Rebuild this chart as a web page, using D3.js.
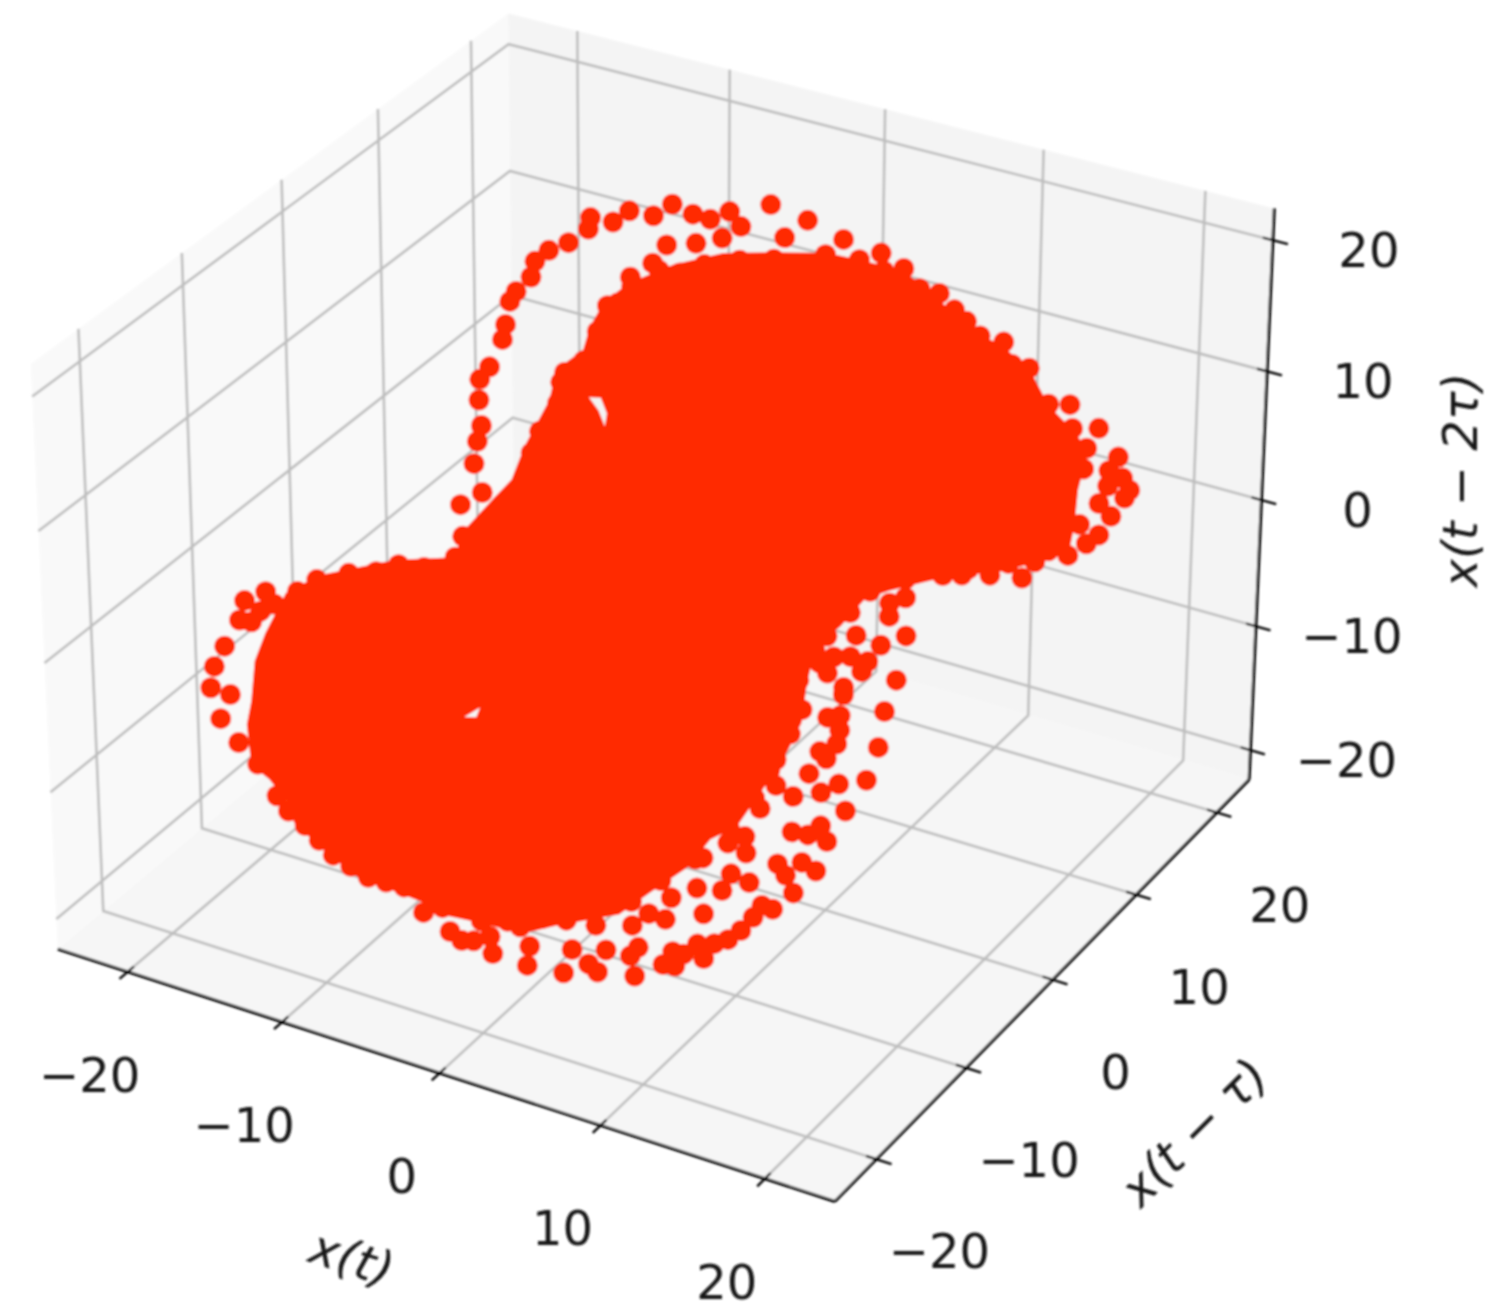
<!DOCTYPE html>
<html><head><meta charset="utf-8"><style>html,body{margin:0;background:#fff}svg{display:block}text{font-family:"DejaVu Sans";fill:#141414}</style>
<script src="https://cdn.jsdelivr.net/npm/d3@7"></script></head><body><svg id="c" width="1487" height="1312"></svg>
<script>
const ticks=[-20,-10,0,10,20];
const xAxisLimits=[-24.6,24.2], yAxisLimits=[-24.5,24.1], zAxisLimits=[-22.4,22.4];
const xyDataLimit=24, zDataLimit=22;
const axisTitles=["x(t)","x(t − τ)","x(t − 2τ)"];
// sampled points: x(t), x(t-tau), x(t-2tau)
const xT=[-5.6,-6.2,-7.3,-7.8,-8.8,-8.7,-9.3,-10,-10.4,-10.3,-10.7,-10.8,-10.6,-10.5,-10.6,-10.8,-10.5,-10,-9.9,-9.7,-8.9,-9.6,
-4.6,-3.8,-3.1,-2.4,-3,-1.5,.3,-.4,2.1,-5.2,-4,-5.5,-5.1,-6.2,-6,-6.7,-6.3,-6.7,-6.8,-7.4,-7.4,-7.2,-7.5,-7.5,-7.4,-7.9,-9,-8.2,
1.6,3.9,3.1,5.1,7,7.9,8.6,9.4,10.5,11.2,12,13.4,14.3,14.8,15.9,15.7,17.2,15.9,17,17.7,18.2,18.1,17.2,17.1,17.8,17.6,16.6,17.2,16.6,15.3,15,13.6,12.4,11.6,
10.4,9.8,10,11,10.1,8.9,7.7,8.3,9.8,9.7,9,8.3,7.8,9.2,9.3,11.3,11.3,11.6,11.6,10.5,11.2,9.9,9.1,8.8,9,9.5,9.7,9.8,9.2,9.6,10.4,9.3,10,10.9,10.2,10.9,9.2,9.7,10.3,8.3,7.4,7.3,6.2,5.3,5.4,4.6,4.1,4.7,4.5,5,6.9,9.7,9.2,9,8.7,8.3,7.8,7.1,7.6,6.7,6.2,6,6.5,
7.9,7.6,7.7,7.4,6.8,6,7.5,7.7,7.8,8.3,
-16.2,-16.9,-16.8,-17,-17.1,-16.9,-16,-16,-14.9,-13.8,-12.5,-10.9,-9.3,-7.5,-5.9,-4.7,-3.3,-2.7,-2.2,-1.6,-1.2,.2,.4,2,2,2.9,3.4,3.4,2.6,1.3,-.5,-2.2,-14.3,-14.9,-11.2,-13.1,-12,-10.1,-9,
-4.2,-3.3,-1.9,-.5,.9,4.3,6.1,-11.8,-10.1,-8.4,-6.7,-4,-1.1,.3,3.7,4.6,5.7,6.6,7.2,7.4,7.5,7.2,7.4,8.8,10.1,12.6,14.2,15.7,
-16.1,-16.3,-15.65];
const xTau=[10.6,9.6,8.9,8,7.3,6.9,5.8,4.9,4.1,3.5,2.6,2.1,1.3,.8,-.4,-1.1,-1.7,-2.3,-2.9,-3.6,-4.1,-5.2,
11.1,11.6,12.5,12.5,11.5,14.2,15.1,13.8,15.9,9.3,10.4,8.3,8.3,7.1,6.9,5.5,5.9,4.4,3.1,2.1,1.7,1,-.4,-1.3,-2.6,-3.7,-6,-5.2,
14.8,16.9,15.9,17.3,17.9,18,18.1,18.2,18.9,18.6,19.1,18.8,19.6,19,20,19,19.9,18.3,19.2,19.5,19.4,19,18.7,17.9,18,17,16.6,16.3,15.3,13.9,13,11.9,10.9,10.2,
8.2,7.5,7.1,7.2,6,5.4,4.3,5.8,5.1,4.6,4.6,4,3.3,3.5,3.3,5.6,4.3,3.1,1.8,.7,.2,-.2,-.1,-1.3,2.1,2.6,2.2,1.7,.9,.9,-1.1,-2.3,-1.8,-1.3,-2.8,-2.5,-3.7,-3.7,-3.9,-5.2,-5.6,-6.4,-7.2,-8.4,-9.2,-9.6,-10.5,-10.9,-11.4,-11.8,-7.7,-5.1,-5.4,-6,-6.8,-7.5,-8.1,-8.7,-8.9,-9.5,-9.8,-10.5,-10.1,
-1.6,-2.8,-4.5,-4.1,-4.9,-6.2,-.9,.3,1.4,3.3,
-14.4,-15.4,-16.1,-17.3,-18.2,-18.9,-18.4,-19.4,-19.4,-19.3,-19.5,-19.3,-19.1,-18.5,-17.5,-17.5,-17.1,-16.9,-16.5,-15.8,-16.2,-14.7,-15.3,-14.2,-13.3,-13.1,-13,-12.1,-11.8,-12.7,-14.5,-15.7,-12.3,-13.3,-9,-11,-10,-8.2,-6.8,
9,10.1,11.5,12.8,13.8,16.5,17.3,-19.5,-19.2,-18.8,-18,-16.7,-14.8,-13.5,-9.9,-8.3,-6.5,-4.4,-2.7,-1.4,1,2.1,3.5,7.1,8.7,11.3,12.9,14.7,
-15.1,-15.7,-14.45];
const x2Tau=[20.3,19.8,20.2,19.7,20.1,19.5,18.9,18.6,18.1,17.3,16.6,16.1,14.9,14.1,12.7,12.1,11,9.6,8.8,7.6,6,5.5,
19.6,19.2,19.5,18.6,18.1,19.6,18.5,17.7,17.2,18.1,18,17.2,16.8,16.6,16.1,15.2,15.3,13.9,12.4,11.9,11.4,10.3,8.9,7.8,6,5.2,3.8,3.7,
16.5,16.2,16,15.2,13.6,12.6,11.9,11,10.5,9.2,8.9,6.8,6.6,5.3,5.1,4.1,3.4,3,2.7,2.2,1.5,1.1,1.9,1,.2,-.7,0,-1.1,-1.6,-1.7,-2.5,-2.1,-1.9,-1.8,
-2.7,-2.9,-3.6,-4.8,-5.1,-4.4,-4.2,-3.1,-5.9,-6.4,-5.5,-5.4,-5.6,-7.1,-7.5,-7.1,-8.7,-10.6,-12.3,-12.3,-13.8,-12.6,-11.5,-12.6,-8.6,-8.6,-9.4,-10.1,-10.4,-10.8,-14.4,-14.5,-14.8,-15.3,-16.2,-16.8,-16.1,-16.8,-17.8,-16.9,-16.3,-17.1,-16.8,-17.1,-18.2,-17.8,-18.3,-19.5,-19.9,-21,-18.2,-18.5,-18.2,-18.8,-19.4,-19.8,-19.9,-19.8,-20.6,-20.2,-20,-20.6,-20.8,
-11.9,-13,-15.3,-14.4,-14.6,-15.2,-10.5,-9.2,-8,-6.2,
2.2,1.9,.9,-.4,-1.4,-2.5,-3,-4.2,-5.6,-6.9,-8.7,-10.5,-12.3,-13.7,-14.5,-16,-17.2,-17.8,-17.9,-17.8,-18.7,-18.6,-19.6,-20.3,-19.1,-20,-20.5,-19.4,-18,-17.5,-17.5,-16.9,2.5,2,2.7,2.6,2.5,2.4,2.7,
16.5,16.8,16.8,16.6,16.1,15.2,14,-9.6,-11.4,-13,-14.1,-15.9,-17.1,-17.2,-17,-16.1,-15.2,-13.8,-12.4,-11,-8.1,-6.4,-4.9,-2.1,-1.7,-1.6,-1.6,-1.2,
1.2,.7,1.5];
// outline of the saturated dense core, where single markers can no longer be told apart
const coreXT=[-4.6,-2.7,-.7,1.6,3.1,5.1,7,8.5,10.6,12.1,13.4,14.8,15.8,16,16.4,16.6,14.1,11.7,9.6,8.7,8.1,7.4,7.6,8,7.8,7.5,6.9,6,5.5,4.4,3.4,1,-.3,-2.2,-3.6,-5,-6.3,-7.8,-9.6,-11.4,-11.9,-13.1,-14.05,-14.85,-15.05,-15.55,-15.55,-15.35,-14.3,-11.4,-9,-9.1,-8.4,-7.9,-7.9,-7.6,-7.8,-7,-7.1,-6.9,-6.2];
const coreXTau=[9,11.1,12.9,14.9,15.9,17.2,17.7,17.9,18.8,19.1,18.8,19,19,17.5,16.4,15.4,12.5,10.2,7.8,6.7,5.1,3.6,2.3,1,-.7,-1.9,-4.1,-5.4,-7,-8.9,-10.7,-13.2,-14.6,-15.8,-16.7,-17.3,-18,-18.8,-19.3,-19.6,-19.3,-19.3,-19.55,-18.65,-17.85,-16.65,-15.55,-13.75,-12.1,-9,-6.8,-5.9,-4,-2.7,-1.3,.8,1.9,3.4,4.3,5.4,6.8];
const coreX2Tau=[17,17.3,17,16.6,16,15.1,13.4,11.7,10.2,8.7,6.7,5.2,4,1.9,0,-1.5,-2,-1.9,-2.2,-2.5,-3.8,-4.7,-6.6,-8.7,-10.6,-11.7,-13.8,-14.3,-15.6,-16.6,-17.6,-17.7,-17.9,-17,-16.4,-15.4,-14.6,-13.8,-12.1,-10.3,-9.2,-7.8,-6.9,-4.7,-3.5,-1.4,0,2,2.7,3,2.7,4,5.5,6.5,8.2,10.5,12.1,13,14.2,15.4,16.3];
// small gaps left open inside the core
const gapXT=[[-6,-5.5,-5,-4.9,-5.4],[-5.6,-5.6,-6.1]];
const gapXTau=[[2.3,2.7,2.5,2.1,2.3],[-10,-10.4,-10.8]];
const gapX2Tau=[[10.4,10.3,9.4,8.7,9.6],[-5.5,-6,-5.9]];

const A=.5714,C=.4286,D=10;
const qx=d3.scaleLinear().domain([-xyDataLimit,xyDataLimit]).range([-A,A]);
const qy=qx.copy();
const qz=d3.scaleLinear().domain([-zDataLimit,zDataLimit]).range([-C,C]);
const tx=d3.scaleLinear().domain(xAxisLimits).range([-xyDataLimit,xyDataLimit]);
const ty=d3.scaleLinear().domain(yAxisLimits).range([-xyDataLimit,xyDataLimit]);
const tz=d3.scaleLinear().domain(zAxisLimits).range([-zDataLimit,zDataLimit]);
const sx=d3.scaleLinear().domain([0,1]).range([664,664+7793]);
const sy=d3.scaleLinear().domain([0,1]).range([580,580-7785]);
function P(x,y,z){const a=qx(x),b=qy(y),c=qz(z);
  const d=.433*a-.75*b+.5*c,k=D-d;
  return [sx((.866*a+.5*b)/k),sy((-.25*a+.433*b+.866*c)/k)];}
const L=xyDataLimit,Z=zDataLimit;
const svg=d3.select("#c");
const defs=svg.append("defs");
defs.append("filter").attr("id","soft").attr("filterUnits","userSpaceOnUse").attr("x",0).attr("y",0).attr("width",1487).attr("height",1312)
  .append("feGaussianBlur").attr("stdDeviation",1.2);
const root=svg.append("g").attr("filter","url(#soft)");
const line=d3.line();
const panes=[
 {c:"#f9f9f9",p:[[-L,-L,-Z],[-L,L,-Z],[-L,L,Z],[-L,-L,Z]]},
 {c:"#f4f4f4",p:[[-L,L,-Z],[L,L,-Z],[L,L,Z],[-L,L,Z]]},
 {c:"#f6f6f6",p:[[-L,-L,-Z],[L,-L,-Z],[L,L,-Z],[-L,L,-Z]]}];
root.append("g").selectAll("path").data(panes).join("path")
 .attr("d",d=>line(d.p.map(q=>P(...q)))+"Z").attr("fill",d=>d.c);
const grid=[];
ticks.forEach(t=>{
 grid.push([[tx(t),-L,-Z],[tx(t),L,-Z],[tx(t),L,Z]]);
 grid.push([[L,ty(t),-Z],[-L,ty(t),-Z],[-L,ty(t),Z]]);
 grid.push([[-L,-L,tz(t)],[-L,L,tz(t)],[L,L,tz(t)]]);
});
root.append("g").selectAll("path").data(grid).join("path")
 .attr("d",d=>line(d.map(q=>P(...q)))).attr("fill","none").attr("stroke","#bdbdbd").attr("stroke-width",2.6);
const axes=[[[-L,-L,-Z],[L,-L,-Z]],[[L,-L,-Z],[L,L,-Z]],[[L,L,-Z],[L,L,Z]]];
root.append("g").selectAll("path").data(axes).join("path")
 .attr("d",d=>line(d.map(q=>P(...q)))).attr("stroke","#000").attr("stroke-width",3).attr("fill","none");
const tickMarks=[];
ticks.forEach(t=>{
 tickMarks.push([[tx(t),-L+.6,-Z],[tx(t),-L-.8,-Z]]);
 tickMarks.push([[L-.6,ty(t),-Z],[L+.9,ty(t),-Z]]);
 tickMarks.push([[L-.6,L,tz(t)],[L+.9,L,tz(t)]]);
});
root.append("g").selectAll("path").data(tickMarks).join("path")
 .attr("d",d=>line(d.map(q=>P(...q)))).attr("stroke","#000").attr("stroke-width",2.4).attr("fill","none");
const fmt=t=>(t<0?"−":"")+Math.abs(t);
const labels=[];
ticks.forEach(t=>{
 const a=P(tx(t),-L,-Z),b=P(L,ty(t),-Z),c=P(L,L,tz(t));
 labels.push({t,x:a[0]-38,y:a[1]+103});
 labels.push({t,x:b[0]+63,y:b[1]+92});
 labels.push({t,x:c[0]+96,y:c[1]+10});
});
root.append("g").selectAll("text").data(labels).join("text").text(d=>fmt(d.t))
 .attr("x",d=>d.x).attr("y",d=>d.y).attr("text-anchor","middle").attr("dominant-baseline","central").attr("font-size",48);
const titles=[{s:axisTitles[0],x:352,y:1258,r:18},{s:axisTitles[1],x:1194,y:1132,r:-45},{s:axisTitles[2],x:1460,y:480,r:-90}];
root.append("g").selectAll("text").data(titles).join("text").text(d=>d.s)
 .attr("transform",d=>`translate(${d.x},${d.y}) rotate(${d.r})`).attr("text-anchor","middle").attr("dominant-baseline","central")
 .attr("font-size",48).attr("font-style","italic");
const RED="#ff2a00";
const ring=(a,b,c)=>line(a.map((_,i)=>P(a[i],b[i],c[i])))+"Z";
root.append("path")
 .attr("d",ring(coreXT,coreXTau,coreX2Tau)+gapXT.map((g,i)=>ring(g,gapXTau[i],gapX2Tau[i])).join(""))
 .attr("fill",RED).attr("fill-rule","evenodd");
root.append("g").selectAll("circle").data(d3.range(xT.length)).join("circle")
 .attr("cx",i=>P(xT[i],xTau[i],x2Tau[i])[0]).attr("cy",i=>P(xT[i],xTau[i],x2Tau[i])[1]).attr("r",10.5).attr("fill",RED);
</script></body></html>
